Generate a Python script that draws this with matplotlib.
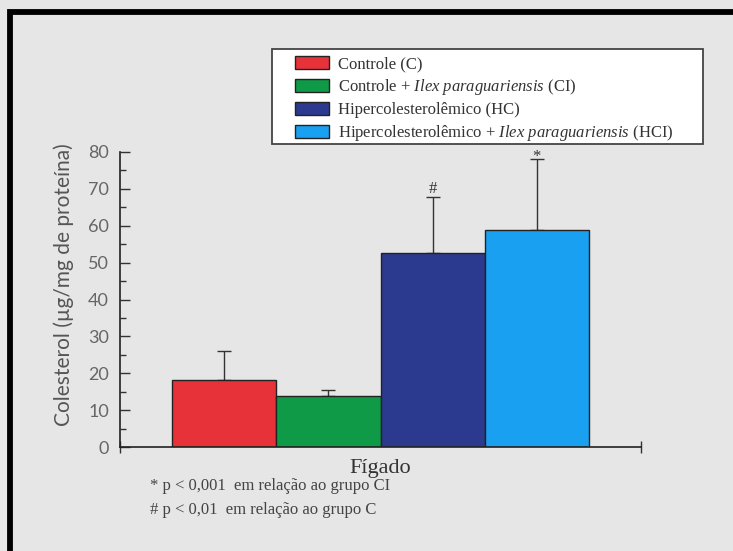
import matplotlib

matplotlib.use("Agg")
import matplotlib.pyplot as plt
from matplotlib.patches import Patch, Rectangle
from matplotlib.ticker import MultipleLocator

plt.rcParams["font.family"] = ["Liberation Serif", "DejaVu Serif"]
plt.rcParams["mathtext.fontset"] = "custom"
plt.rcParams["mathtext.rm"] = "Liberation Serif"
plt.rcParams["mathtext.it"] = "Liberation Serif:italic"

# data
groups = [
    "Controle (C)",
    r"Controle + $\it{Ilex\ paraguariensis}$ (CI)",
    "Hipercolesterolêmico (HC)",
    r"Hipercolesterolêmico + $\it{Ilex\ paraguariensis}$ (HCI)",
]
means = [18.3, 13.8, 52.7, 58.8]
errors = [7.7, 1.6, 15.0, 19.2]
marks = ["", "", "#", "*"]
colors = ["#e8323a", "#0f9a47", "#2b3a8f", "#1aa0f0"]
footnotes = [
    "* p < 0,001  em relação ao grupo CI",
    "# p < 0,01  em relação ao grupo C",
]

W, H = 733, 551
bg = "#e6e6e6"
fig = plt.figure(figsize=(W / 100, H / 100), dpi=100, facecolor=bg)
ax = fig.add_axes([120 / W, 1 - 447 / H, 521 / W, 295 / H])
ax.set_facecolor("none")

xs = [1, 2, 3, 4]
ax.bar(xs, means, width=1.0, color=colors, edgecolor="#222222", linewidth=1.0, zorder=2)
ax.errorbar(xs, means, yerr=[[0] * 4, errors], fmt="none", ecolor="#333333",
            elinewidth=1.0, capsize=5, capthick=1.0, zorder=1)
for x, m, e, s in zip(xs, means, errors, marks):
    if s:
        ax.annotate(s, (x, m + e), xytext=(0, 3 if s == "#" else -1), textcoords="offset points",
                    ha="center", va="baseline", fontsize=12, color="#333333")

ax.set_xlim(0, 5)
ax.set_ylim(0, 80)
ax.yaxis.set_major_locator(MultipleLocator(10))
ax.yaxis.set_minor_locator(MultipleLocator(5))
ax.tick_params(axis="y", which="major", direction="in", length=7, width=1,
               labelsize=13, colors="#333333", labelcolor="#666666", pad=8)
ax.tick_params(axis="y", which="minor", direction="in", length=4, width=1, colors="#333333")
for lbl in ax.get_yticklabels():
    lbl.set_family(["Lato", "DejaVu Sans"])
ax.set_xticks([0, 5])
ax.set_xticklabels(["", ""])
ax.tick_params(axis="x", direction="inout", length=8, width=1, colors="#333333")
for side in ["top", "right"]:
    ax.spines[side].set_visible(False)
for side in ["left", "bottom"]:
    ax.spines[side].set_color("#222222")
    ax.spines[side].set_linewidth(1.2)

ax.set_ylabel("Colesterol (µg/mg de proteína)", fontsize=15, color="#555555",
              family=["Lato", "DejaVu Sans"])
ax.yaxis.set_label_coords(-0.088, 0.55)
ax.set_xlabel("Fígado", fontsize=16, color="#333333", labelpad=1)

# legend box
fig.add_artist(Rectangle((272 / W, 1 - 144 / H), 431 / W, 95 / H, transform=fig.transFigure,
                         facecolor="white", edgecolor="#444444", linewidth=1.3, zorder=3))
handles = [Patch(facecolor=c, edgecolor="#222222") for c in colors]
leg = fig.legend(handles, groups, loc="upper left", bbox_to_anchor=(295 / W, 1 - 56 / H),
                 frameon=False, fontsize=12, borderpad=0, borderaxespad=0,
                 handlelength=2.05, handleheight=0.8, handletextpad=0.55, labelspacing=0.3)
leg.set_zorder(4)
for t in leg.get_texts():
    t.set_color("#333333")

fig.text(150 / W, 1 - 486 / H, footnotes[0], fontsize=12, color="#444444", va="center")
fig.text(150 / W, 1 - 510 / H, footnotes[1], fontsize=12, color="#444444", va="center")

# thick frame around the figure (only left and top edges fall inside the image)
fig.add_artist(Rectangle((9.5 / W, -0.2), 1.5, 1.2 - 12 / H, transform=fig.transFigure,
                         fill=False, edgecolor="black", linewidth=4.2))

fig.savefig("out.png", dpi=100, facecolor=bg)
